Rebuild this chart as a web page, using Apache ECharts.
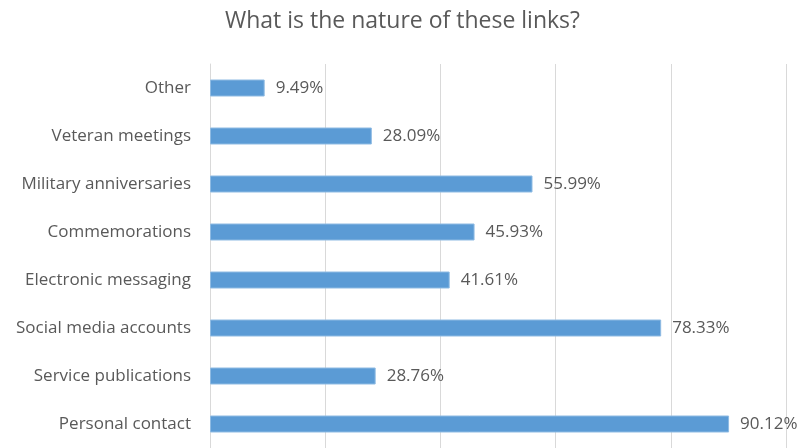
<!DOCTYPE html>
<html>
<head>
<meta charset="utf-8">
<script src="https://cdn.jsdelivr.net/npm/echarts@6/dist/echarts.min.js"></script>
<style>
  html, body { margin: 0; padding: 0; background: #fff; }
  #chart { width: 805px; height: 448px; }
</style>
</head>
<body>
<div id="chart"></div>
<script>
// categories listed top to bottom
const categories = [
  'Other',
  'Veteran meetings',
  'Military anniversaries',
  'Commemorations',
  'Electronic messaging',
  'Social media accounts',
  'Service publications',
  'Personal contact'
];
const shares = [9.49, 28.09, 55.99, 45.93, 41.61, 78.33, 28.76, 90.12];

const textColor = '#595959';
const fontFamily = '"Open Sans", "Noto Sans", sans-serif';

let myChart = echarts.init(document.getElementById('chart'));

let option = {
  animation: false,
  title: {
    text: 'What is the nature of these links?',
    left: 'center',
    top: 5,
    textStyle: {
      color: textColor,
      fontSize: 23,
      fontWeight: 'normal',
      fontFamily: fontFamily
    }
  },
  grid: {
    left: 210,
    right: 19,
    top: 64,
    height: 388
  },
  xAxis: {
    type: 'value',
    min: 0,
    max: 100,
    interval: 20,
    axisLine: { show: false },
    axisTick: { show: false },
    axisLabel: { show: false },
    splitLine: { lineStyle: { color: '#d9d9d9', width: 1 } }
  },
  yAxis: {
    type: 'category',
    data: categories,
    inverse: true,
    axisLine: { show: true, lineStyle: { color: '#d9d9d9' } },
    axisTick: { show: false },
    axisLabel: {
      color: textColor,
      fontSize: 17,
      fontFamily: fontFamily,
      margin: 19
    }
  },
  series: [
    {
      type: 'bar',
      data: shares,
      barWidth: 17,
      itemStyle: {
        color: '#5b9bd5',
        borderColor: '#8fbbe3',
        borderWidth: 1
      },
      label: {
        show: true,
        position: 'right',
        distance: 11,
        color: textColor,
        fontSize: 17,
        fontFamily: fontFamily,
        formatter: function (p) {
          return p.value.toFixed(2) + '%';
        }
      }
    }
  ]
};

myChart.setOption(option);
</script>
</body>
</html>
